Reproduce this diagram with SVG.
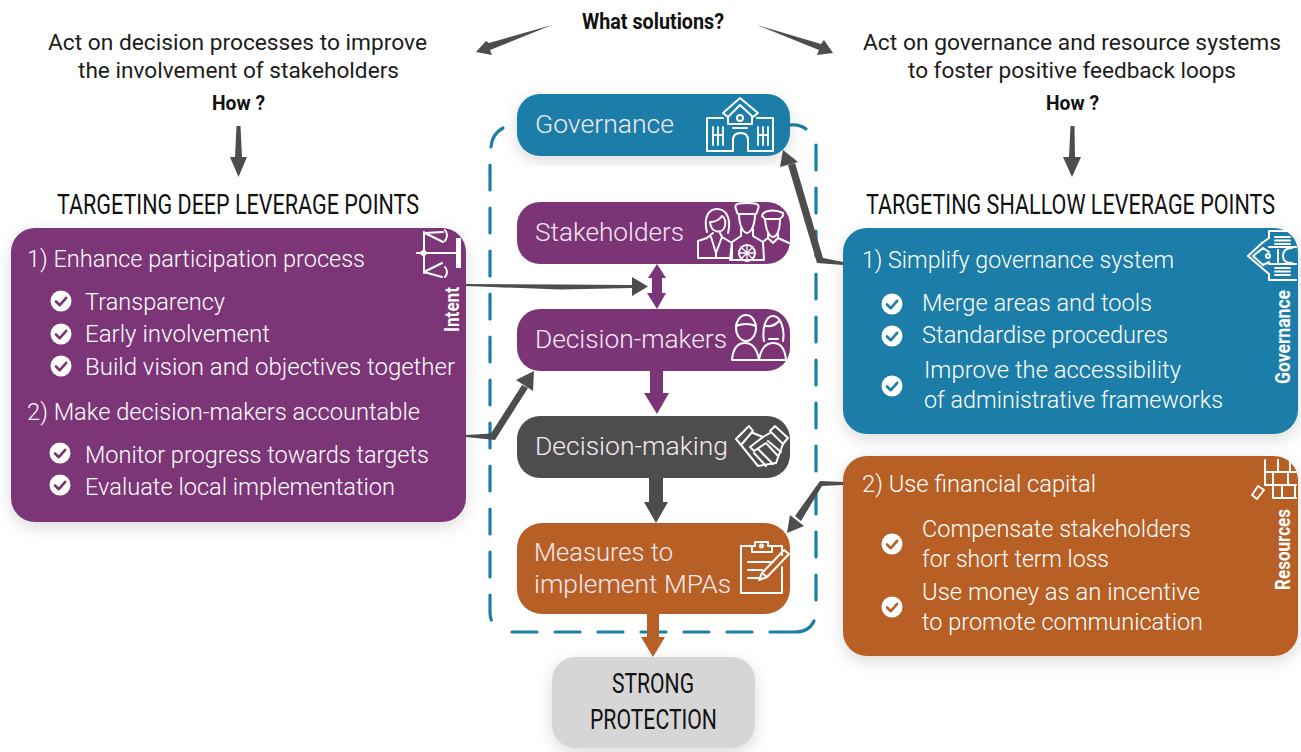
<svg xmlns="http://www.w3.org/2000/svg" width="1301" height="752" viewBox="0 0 1301 752">
<style>
text{font-family:Roboto,"Liberation Sans",sans-serif;font-weight:300}
.w{fill:#fff;font-size:24px}
.c{fill:#f3e9f1;font-size:26.5px}
.k{fill:#1c1c1c;font-size:22.5px;font-weight:400}
.n{fill:#111;font-weight:400;font-size:27px}
.b{fill:#111;font-weight:700}
.v{fill:#fff;font-weight:700;font-size:20px}
.ic{fill:none;stroke:#fff;stroke-width:2;stroke-linejoin:round;stroke-linecap:round}
.ck{fill:none;stroke-width:2.6;stroke-linecap:round;stroke-linejoin:round}
.dash{fill:none;stroke:#1a7ea8;stroke-width:3.2;stroke-dasharray:25 18;stroke-linecap:round}
.g{fill:#4d4d4d}
</style>
<defs>
<filter id="s" x="-10%" y="-10%" width="120%" height="125%"><feDropShadow dx="0" dy="5" stdDeviation="8" flood-color="#000" flood-opacity=".14"/></filter>
<g id="cp"><circle r="10.500" fill="#fff"/><path d="M-5 0.5-1.200 4.200 5.200-3.200" class="ck" stroke="#7b3577"/></g>
<g id="cb"><circle r="10.500" fill="#fff"/><path d="M-5 0.5-1.200 4.200 5.200-3.200" class="ck" stroke="#1a7ea8"/></g>
<g id="co"><circle r="10.500" fill="#fff"/><path d="M-5 0.5-1.200 4.200 5.200-3.200" class="ck" stroke="#b85f25"/></g>
</defs>
<rect width="1301" height="752" fill="#fff"/>

<g id="headings">
<text x="582" y="29" class="b" font-size="22" textLength="142" lengthAdjust="spacingAndGlyphs">What solutions?</text>
<text x="48" y="50" class="k" textLength="379" lengthAdjust="spacingAndGlyphs">Act on decision processes to improve</text>
<text x="78" y="78" class="k" textLength="321" lengthAdjust="spacingAndGlyphs">the involvement of stakeholders</text>
<text x="212" y="110" class="b" font-size="21" textLength="53" lengthAdjust="spacingAndGlyphs">How ?</text>
<text x="863" y="50" class="k" textLength="418" lengthAdjust="spacingAndGlyphs">Act on governance and resource systems</text>
<text x="908" y="78" class="k" textLength="328" lengthAdjust="spacingAndGlyphs">to foster positive feedback loops</text>
<text x="1046" y="110" class="b" font-size="21" textLength="53" lengthAdjust="spacingAndGlyphs">How ?</text>
<text transform="translate(57 214) scale(.85 1)" class="n" textLength="425.900" lengthAdjust="spacingAndGlyphs">TARGETING DEEP LEVERAGE POINTS</text>
<text transform="translate(866 214) scale(.85 1)" class="n" textLength="481.200" lengthAdjust="spacingAndGlyphs">TARGETING SHALLOW LEVERAGE POINTS</text>
</g>

<g id="boundary">
<path class="dash" d="M491 147Q492 134 503 128" style="stroke-dasharray:none"/>
<path class="dash" d="M790 125Q800 124 806 129" style="stroke-dasharray:none"/>
<path class="dash" d="M816 145V602"/>
<path class="dash" d="M814 621Q809 632 795 632H770" style="stroke-dasharray:none"/>
<path class="dash" d="M752 632H510"/>
<path class="dash" d="M490 165V612Q490 622 496 626"/>
</g>

<g id="node-governance"><rect x="517" y="94" width="273" height="62" rx="23" fill="#1a7ea8" filter="url(#s)"/>
<text x="535" y="133" class="c" textLength="139" lengthAdjust="spacingAndGlyphs">Governance</text>
<g class="ic"><path d="M723 118H707V151H733V140Q733 133 740.500 133 748 133 748 140V151H773V118H757"/><path d="M723 113 740 98 758 113 753 117 740 105 728 117Z"/><path d="M728 117V124H752V117"/><circle cx="740" cy="118" r="3"/><path d="M733 128H747" /><path d="M713 127V145M718 127V145M723 127V145M758 127V145M763 127V145M768 127V145M713 135H723M758 135H768" stroke-width="1.800"/></g></g>

<g id="node-stakeholders"><rect x="517" y="202" width="273" height="62" rx="23" fill="#7b3577"/>
<text x="535" y="241" class="c" textLength="149" lengthAdjust="spacingAndGlyphs">Stakeholders</text>
<g class="ic" stroke-width="1.700"><path d="M707 232C703 217 709 209 717 209 725 209 732 217 728 233"/><path d="M710 222C716 222 720 219 722 216 725 218 726 221 725 226 723 234 711 234 710 222Z"/><path d="M713 233 707 238 698 241V258H732V243L722 237 720 233M711 237 716 253 722 237M716 253V258"/><path d="M736 209C733 203 741 203 747 203 753 203 761 203 758 209 757 213 757 213 756 214H738C737 213 737 213 736 209Z"/><path d="M739 214C739 227 744 233 747 233 750 233 755 227 755 214"/><path d="M741 229V236L732 242 730 260H764L763 242 753 236V229"/><circle cx="747" cy="253" r="8"/><path d="M747 245V261M739 253H755M741 247 753 259M753 247 741 259" stroke-width="1.300"/><path d="M762 216C763 210 775 209 783 213 784 216 781 219 778 219H765Z"/><path d="M765 219C766 232 770 237 773 237 776 237 780 232 780 219"/><path d="M768 234V238L764 241M778 234V238L789 243M768 238 773 243 778 238"/></g></g>

<g id="node-decision-makers"><rect x="517" y="309" width="273" height="62" rx="23" fill="#7b3577"/>
<text x="535" y="348" class="c" textLength="192" lengthAdjust="spacingAndGlyphs">Decision-makers</text>
<g class="ic" stroke-width="1.800"><ellipse cx="746" cy="328" rx="10" ry="13"/><path d="M736 326Q746 322 756 326M732 360C733 348 738 343 745 343 752 343 757 348 759 360 761 348 766 343 773 343 780 343 785 348 786 360H732Z"/><path d="M764 341C762 330 765 316 773 316 781 316 785 330 783 341M766 326Q774 327 779 321M769 339H778"/></g></g>

<g id="node-decision-making"><rect x="517" y="416" width="273" height="62" rx="23" fill="#4d4d4d"/>
<text x="535" y="455" class="c" textLength="193" lengthAdjust="spacingAndGlyphs">Decision-making</text>
<g class="ic" stroke-width="1.900"><path d="M736 439 749 426 753 431 741 445ZM788 438 775 426 770 431 783 444Z"/><path d="M753 433 763 437 770 433M741 445 758 466 776 463 783 444"/><path d="M763 437 750 447 754 451 766 443 778 456M768 441 781 452M758 449 773 464M754 453 766 466"/></g></g>

<g id="node-measures"><rect x="517" y="523" width="273" height="91" rx="25" fill="#b85f25"/>
<text x="534" y="561" class="c" textLength="139" lengthAdjust="spacingAndGlyphs">Measures to</text>
<text x="534" y="593" class="c" textLength="197" lengthAdjust="spacingAndGlyphs">implement MPAs</text>
<g class="ic"><path d="M752 546H741V593H782V567M772 546H782V555"/><path d="M752 552V546H755V542H768V546H772V552H752Z"/><circle cx="761.500" cy="546" r="1.500"/><path d="M748 562H773M748 570H762M748 578H758"/><path d="M759 580 762 573 784 550 789 554 767 577ZM762 573 767 577"/></g></g>

<g id="node-protection"><rect x="552" y="657" width="203" height="91" rx="23" fill="#d6d6d7" filter="url(#s)"/>
<text x="612" y="693" class="n" textLength="82" lengthAdjust="spacingAndGlyphs">STRONG</text>
<text x="590" y="729" class="n" textLength="127" lengthAdjust="spacingAndGlyphs">PROTECTION</text></g>

<g id="node-deep"><rect x="11" y="228" width="455" height="294" rx="24" fill="#7b3577" filter="url(#s)"/>
<text x="27" y="267" class="w" textLength="338" lengthAdjust="spacingAndGlyphs">1) Enhance participation process</text>
<use href="#cp" x="61" y="301"/><text x="85" y="310" class="w" textLength="140" lengthAdjust="spacingAndGlyphs">Transparency</text>
<use href="#cp" x="61" y="334"/><text x="85" y="342" class="w" textLength="185" lengthAdjust="spacingAndGlyphs">Early involvement</text>
<use href="#cp" x="61" y="366"/><text x="85" y="375" class="w" textLength="370" lengthAdjust="spacingAndGlyphs">Build vision and objectives together</text>
<text x="27" y="420" class="w" textLength="393" lengthAdjust="spacingAndGlyphs">2) Make decision-makers accountable</text>
<use href="#cp" x="60" y="453"/><text x="85" y="463" class="w" textLength="344" lengthAdjust="spacingAndGlyphs">Monitor progress towards targets</text>
<use href="#cp" x="60" y="485"/><text x="85" y="495" class="w" textLength="310" lengthAdjust="spacingAndGlyphs">Evaluate local implementation</text>
<g class="ic" stroke-width="2.800"><path d="M417 253H457M424 232V273M425 233 443 242M425 233 443 232M424 272 442 263M424 272 442 277"/><path d="M445 230Q449 235 445 241M445 267Q449 272 445 277" stroke-width="2"/></g>
<path d="M456 238H461V268H456Z" fill="#fff"/><circle cx="423.500" cy="253" r="3" fill="#fff"/>
<text class="v" transform="translate(459 332) rotate(-90)" textLength="45" lengthAdjust="spacingAndGlyphs">Intent</text></g>

<g id="node-shallow"><rect x="843" y="228" width="455" height="206" rx="24" fill="#1a7ea8" filter="url(#s)"/>
<text x="862" y="268" class="w" textLength="312" lengthAdjust="spacingAndGlyphs">1) Simplify governance system</text>
<use href="#cb" x="892" y="304"/><text x="922" y="311" class="w" textLength="230" lengthAdjust="spacingAndGlyphs">Merge areas and tools</text>
<use href="#cb" x="892" y="336"/><text x="922" y="343" class="w" textLength="246" lengthAdjust="spacingAndGlyphs">Standardise procedures</text>
<use href="#cb" x="892" y="386"/><text x="924" y="378" class="w" textLength="257" lengthAdjust="spacingAndGlyphs">Improve the accessibility</text>
<text x="924" y="408" class="w" textLength="299" lengthAdjust="spacingAndGlyphs">of administrative frameworks</text>
<g class="ic"><path d="M1296 231H1269V238L1262 243 1248 256 1262 268 1269 274V280H1296"/><path d="M1253 256 1263 248 1269 252M1253 256 1263 265 1269 262M1269 247H1296M1269 264H1296"/><circle cx="1268" cy="256" r="2"/><path d="M1278 250V262M1292 248Q1283 248 1283 256 1283 263 1292 263"/><path d="M1275 237H1290M1275 240.500H1290M1275 244H1290M1275 268H1290M1275 271.500H1290M1275 275H1290" stroke-width="1.800"/></g>
<text class="v" transform="translate(1290 384) rotate(-90)" textLength="94" lengthAdjust="spacingAndGlyphs">Governance</text></g>

<g id="node-resources"><rect x="843" y="456" width="455" height="200" rx="24" fill="#b85f25" filter="url(#s)"/>
<text x="862" y="492" class="w" textLength="234" lengthAdjust="spacingAndGlyphs">2) Use financial capital</text>
<use href="#co" x="892" y="544"/><text x="922" y="537" class="w" textLength="269" lengthAdjust="spacingAndGlyphs">Compensate stakeholders</text>
<text x="922" y="567" class="w" textLength="187" lengthAdjust="spacingAndGlyphs">for short term loss</text>
<use href="#co" x="892" y="607"/><text x="922" y="600" class="w" textLength="278" lengthAdjust="spacingAndGlyphs">Use money as an incentive</text>
<text x="922" y="630" class="w" textLength="281" lengthAdjust="spacingAndGlyphs">to promote communication</text>
<g class="ic" stroke-width="1.800"><path d="M1265 460V485H1273V498H1296M1265 472H1296M1273 485H1296M1278 460V472M1290 460V472M1273 472V485M1288 472V485M1282 485V498M1295 485V498"/><path d="M1252 495 1258 486 1264 490 1257 499Z"/></g>
<text class="v" transform="translate(1290 590) rotate(-90)" textLength="81" lengthAdjust="spacingAndGlyphs">Resources</text></g>

<g id="connectors">
<path class="g" d="M552 25 489 43 486 41 476 52 492 55 490 50Z"/>
<path class="g" d="M757 25 821 44 824 40 833 53 817 55 819 50Z"/>
<path class="g" d="M236.500 126H240.500L242 157H247L238.500 177 230 157H235Z"/>
<path class="g" d="M1070.500 126H1074.500L1075 157H1081L1072 177 1063 157H1069Z"/>
<path class="g" d="M466 284 560 284.500 632 285V277L648 286.500 632 296V288L560 289.500 466 286Z"/>
<path d="M657 264 666 278H662V293H666L657 309 647 293H652V278H648Z" fill="#7b3577"/>
<path class="g" d="M466 435 491 433.500 522 385 528 388 495 440 466 437Z"/>
<path class="g" d="M534 371 516 380 533 391Z"/>
<path class="g" d="M788 165 795 163 823 258 843 262V265L817 263Z"/>
<path class="g" d="M783 150 798 162 780 167Z"/>
<path d="M650 371H663V393H669L657 414 644 393H650Z" fill="#7b3577"/>
<path class="g" d="M649 478H663V502H668L656 523 644 502H649Z"/>
<path class="g" d="M843 482 820 481 795 516 801 521 822 486 843 485Z"/>
<path class="g" d="M787 533 790 515 804 526Z"/>
<path d="M647 614H659V637H665L653 657 641 637H647Z" fill="#b85f25"/>
</g>
</svg>
